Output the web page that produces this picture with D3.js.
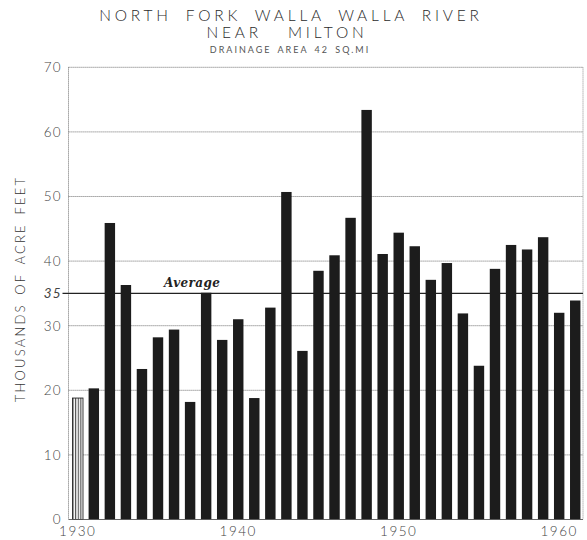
<!DOCTYPE html>
<html><head><meta charset="utf-8">
<script src="https://cdn.jsdelivr.net/npm/d3@7"></script>
<style>
body{margin:0;background:#fff;}
svg{display:block;}
</style></head>
<body>
<svg id="chart" width="587" height="540"></svg>
<script>
// ---- data ----
const years = d3.range(1930, 1962);
const runoff = [18.8, 20.3, 45.9, 36.3, 23.3, 28.2, 29.4, 18.2, 35.1, 27.8,
                31.0, 18.8, 32.8, 50.7, 26.1, 38.5, 40.9, 46.7, 63.4, 41.1,
                44.4, 42.3, 37.1, 39.7, 31.9, 23.8, 38.8, 42.5, 41.8, 43.7,
                32.0, 33.9];
const estimatedYears = [1930];
const yTicks = [0, 10, 20, 30, 40, 50, 60, 70];
const xTickLabels = [1930, 1940, 1950, 1960];
const averageValue = 35;
const titleLines = ["NORTH FORK WALLA WALLA RIVER", "NEAR MILTON"];
const subtitle = "DRAINAGE AREA 42 SQ.MI";
const yTitle = "THOUSANDS OF ACRE FEET";
const averageLabel = "Average";

// ---- layout ----
const svg = d3.select("#chart");
const pLeft = 68.5, pRight = 583, pTop = 67.3, pBottom = 519.5;
const sansFont = "Lato, 'DejaVu Sans', sans-serif";
const ink = "#2a2a2a";

const x = d3.scaleBand().domain(years).range([69.5, 583.5]).paddingInner(0.35).paddingOuter(0.19);
const y = d3.scaleLinear().domain([0, 70]).range([pBottom, pTop]);

// hatch pattern for the 1930 bar
const defs = svg.append("defs");
const pat = defs.append("pattern").attr("id", "hatch").attr("patternUnits", "userSpaceOnUse")
  .attr("width", 2.6).attr("height", 10).attr("x", x(1930));
pat.append("rect").attr("width", 2.6).attr("height", 10).attr("fill", "#fff");
pat.append("line").attr("x1", 0.6).attr("x2", 0.6).attr("y1", 0).attr("y2", 10)
  .attr("stroke", "#222").attr("stroke-width", 0.9);

// gridlines
const grid = svg.append("g");
grid.selectAll("line.g").data(yTicks.filter(d => d > 0)).join("line")
  .attr("class", "g")
  .attr("x1", pLeft).attr("x2", pRight)
  .attr("y1", d => y(d)).attr("y2", d => y(d))
  .attr("stroke", "#666").attr("stroke-width", 0.8).attr("stroke-dasharray", "1.2,0.8");

// frame sides
svg.append("line").attr("x1", pLeft).attr("x2", pLeft).attr("y1", pTop).attr("y2", pBottom)
  .attr("stroke", "#666").attr("stroke-width", 0.8).attr("stroke-dasharray", "1.2,0.8");
svg.append("line").attr("x1", pRight).attr("x2", pRight).attr("y1", pTop).attr("y2", pBottom)
  .attr("stroke", "#888").attr("stroke-width", 0.8).attr("stroke-dasharray", "1.2,0.8");

// average line
svg.append("line").attr("x1", pLeft - 6).attr("x2", pRight)
  .attr("y1", y(averageValue)).attr("y2", y(averageValue))
  .attr("stroke", "#222").attr("stroke-width", 1.3);

// bars
svg.append("g").selectAll("rect").data(years.map((yr, i) => ({yr, v: runoff[i]}))).join("rect")
  .attr("x", d => x(d.yr))
  .attr("width", x.bandwidth())
  .attr("y", d => y(d.v))
  .attr("height", d => y(0) - y(d.v))
  .attr("fill", d => estimatedYears.includes(d.yr) ? "url(#hatch)" : "#1c1c1c")
  .attr("stroke", d => estimatedYears.includes(d.yr) ? "#222" : "none")
  .attr("stroke-width", 0.9);

// baseline
svg.append("line").attr("x1", pLeft).attr("x2", pRight).attr("y1", pBottom).attr("y2", pBottom)
  .attr("stroke", "#555").attr("stroke-width", 0.9);

// y axis labels
const yAxis = d3.axisLeft(y).tickValues(yTicks).tickSize(0).tickPadding(6);
const yg = svg.append("g").attr("transform", `translate(${pLeft},0)`).call(yAxis);
yg.select(".domain").remove();
yg.selectAll("text").attr("font-family", sansFont).attr("font-size", 13.5)
  .attr("letter-spacing", "1px").attr("fill", "#444").attr("font-weight", 300)
  .attr("dx", "-1");

// italic 35
svg.append("text").attr("x", pLeft - 7).attr("y", y(averageValue)).attr("dy", "0.35em")
  .attr("text-anchor", "end").attr("font-family", sansFont).attr("font-style", "italic")
  .attr("font-size", 13.5).attr("letter-spacing", "1px").attr("fill", "#444").text(averageValue);

// x axis labels
const xAxis = d3.axisBottom(x).tickValues(xTickLabels).tickSize(0).tickPadding(7);
const xg = svg.append("g").attr("transform", `translate(0,${pBottom})`).call(xAxis);
xg.select(".domain").remove();
xg.selectAll("text").attr("font-family", sansFont).attr("font-size", 13.5)
  .attr("letter-spacing", "1.5px").attr("fill", "#444").attr("font-weight", 300);

// Average label
svg.append("text").attr("x", x(1937) + x.bandwidth() / 2 + 2).attr("y", y(averageValue) - 6)
  .attr("text-anchor", "middle").attr("font-family", "'DejaVu Serif', 'Liberation Serif', serif")
  .attr("font-style", "italic").attr("font-size", 12).attr("font-weight", 600)
  .attr("letter-spacing", "0.4px").attr("fill", "#222").text(averageLabel);

// titles
svg.append("text").attr("x", 291).attr("y", 21).attr("text-anchor", "middle")
  .attr("font-family", sansFont).attr("font-size", 15.5).attr("letter-spacing", "3.8px")
  .attr("word-spacing", "6px")
  .attr("fill", ink).attr("font-weight", 300).text(titleLines[0]);
svg.append("text").attr("x", 287).attr("y", 38).attr("text-anchor", "middle")
  .attr("font-family", sansFont).attr("font-size", 15.5).attr("letter-spacing", "3.8px")
  .attr("word-spacing", "18px")
  .attr("fill", ink).attr("font-weight", 300).text(titleLines[1]);
svg.append("text").attr("x", 290).attr("y", 53).attr("text-anchor", "middle")
  .attr("font-family", sansFont).attr("font-size", 9).attr("letter-spacing", "2px")
  .attr("word-spacing", "2px")
  .attr("fill", "#555").attr("font-weight", 400).text(subtitle);

// y title
svg.append("text").attr("transform", "translate(25,289) rotate(-90)")
  .attr("text-anchor", "middle").attr("font-family", sansFont).attr("font-size", 13)
  .attr("letter-spacing", "2.2px").attr("word-spacing", "3px")
  .attr("fill", "#333").attr("font-weight", 300).text(yTitle);
</script>
</body></html>
